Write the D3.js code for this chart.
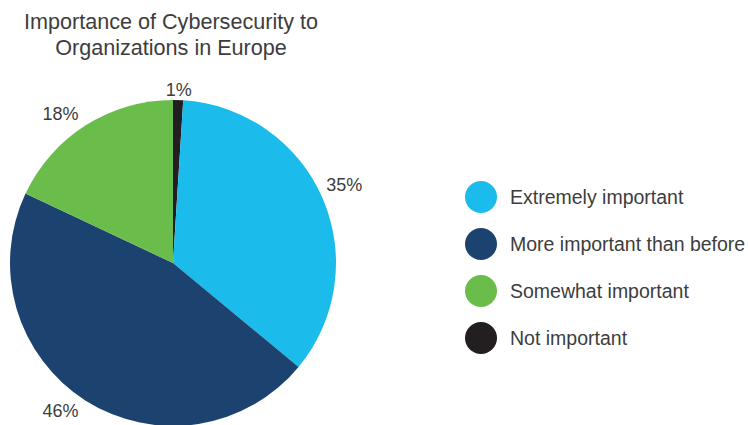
<!DOCTYPE html>
<html>
<head>
<meta charset="utf-8">
<script src="https://cdn.jsdelivr.net/npm/d3@7"></script>
<style>
  html, body { margin: 0; padding: 0; background: #fff; }
  svg { display: block; font-family: "Liberation Sans", "Noto Sans", Arial, sans-serif; }
</style>
</head>
<body>
<svg id="chart" width="748" height="425"></svg>
<script>
// ---- data ----
const categories = ["Not important", "Extremely important", "More important than before", "Somewhat important"];
const values = [1, 35, 46, 18];
const labels = ["1%", "35%", "46%", "18%"];
const legendOrder = ["Extremely important", "More important than before", "Somewhat important", "Not important"];
const titleLines = ["Importance of Cybersecurity to", "Organizations in Europe"];

// ---- styles ----
const colors = {
  "Extremely important": "#1BBCEB",
  "More important than before": "#1C4370",
  "Somewhat important": "#6ABD4B",
  "Not important": "#231F20"
};
const textColor = "#3d3d3d";

const svg = d3.select("#chart");
const cx = 173, cy = 263, r = 163;

// title
svg.append("g").selectAll("text").data(titleLines).join("text")
  .attr("x", 171).attr("y", (d, i) => 29 + i * 26)
  .attr("text-anchor", "middle")
  .attr("font-size", 21.6)
  .attr("fill", textColor)
  .text(d => d);

// pie
const data = categories.map((c, i) => ({ cat: c, value: values[i], label: labels[i] }));
const pie = d3.pie().value(d => d.value).sort(null);
const arcs = pie(data);
const arc = d3.arc().innerRadius(0).outerRadius(r);
const labelArc = d3.arc().innerRadius(180).outerRadius(180);

const g = svg.append("g").attr("transform", `translate(${cx},${cy})`);
g.selectAll("path").data(arcs).join("path")
  .attr("d", arc)
  .attr("fill", d => colors[d.data.cat]);

g.selectAll("text").data(arcs).join("text")
  .each(function(d) {
    const a = (d.startAngle + d.endAngle) / 2;
    const [x, y] = labelArc.centroid(d);
    const s = Math.sin(a);
    const anchor = Math.abs(s) < 0.3 ? "middle" : (s > 0 ? "start" : "end");
    const dx = anchor === "start" ? -12 : (anchor === "end" ? 2 : 0);
    const dy = anchor === "start" ? -7 : (anchor === "middle" ? 7 : (y > 0 ? -4 : 3));
    d3.select(this)
      .attr("x", x + dx)
      .attr("y", y + dy)
      .attr("text-anchor", anchor);
  })
  .attr("dy", "0.35em")
  .attr("font-size", 18)
  .attr("fill", textColor)
  .text(d => d.data.label);

// legend
const legendY = d3.scalePoint().domain(legendOrder).range([197, 338]);
const lg = svg.append("g").selectAll("g").data(legendOrder).join("g")
  .attr("transform", d => `translate(481,${legendY(d)})`);
lg.append("circle").attr("r", 16).attr("fill", d => colors[d]);
lg.append("text")
  .attr("x", 29).attr("dy", "0.35em")
  .attr("font-size", 19.5)
  .attr("fill", textColor)
  .text(d => d);
</script>
</body>
</html>
